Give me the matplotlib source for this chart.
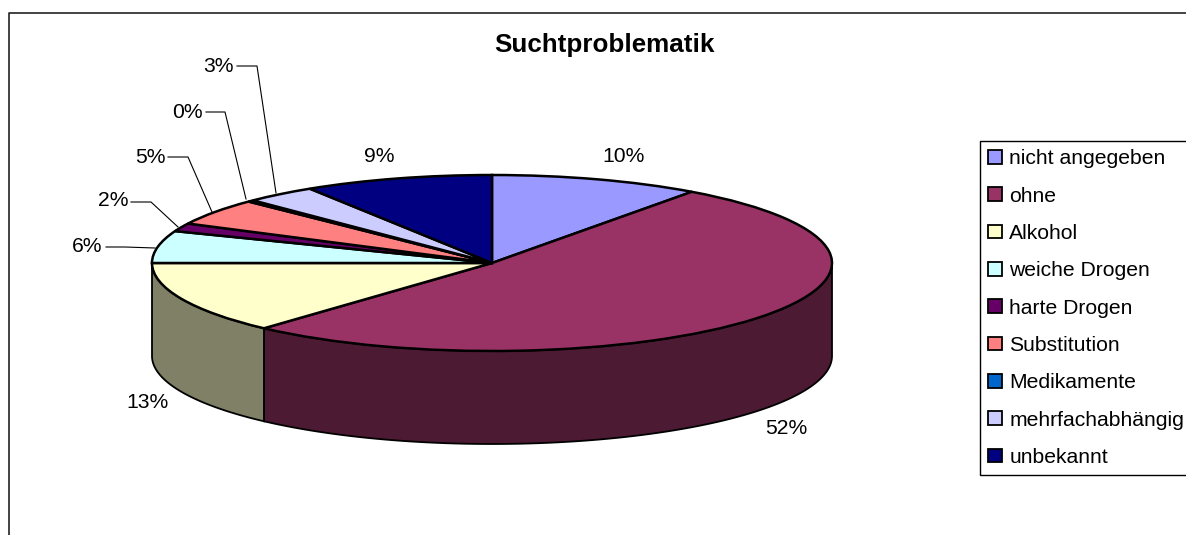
import matplotlib
matplotlib.use('Agg')
import matplotlib.pyplot as plt
from matplotlib.patches import Patch
import numpy as np

plt.rcParams['font.family'] = ['Liberation Sans', 'DejaVu Sans']

categories = ['nicht angegeben', 'ohne', 'Alkohol', 'weiche Drogen', 'harte Drogen',
              'Substitution', 'Medikamente', 'mehrfachabhängig', 'unbekannt']
values = [10, 51.7, 13.3, 5.9, 1.5, 4.9, 0.3, 3.4, 9]
colors = ['#9999ff', '#993366', '#ffffcc', '#ccffff', '#660066',
          '#ff8080', '#0066cc', '#ccccff', '#000080']
side_colors = ['#4d4d80', '#4d1a33', '#808066', '#668080', '#330033',
               '#804040', '#003366', '#666680', '#000040']
pct_labels = ['10%', '52%', '13%', '6%', '2%', '5%', '0%', '3%', '9%']

# pixel geometry of the ellipse
W, H = 1186, 535
CX, CY, RX, RY, DEPTH = 492, 263, 340, 88, 93

fig = plt.figure(figsize=(W / 100, H / 100), dpi=100)
ax = fig.add_axes([0, 0, 1, 1])

# side wall, only the front half is visible
cum = np.cumsum([0] + values) / sum(values) * 360
depth = DEPTH / RY
for i in range(len(values)):
    a0, a1 = max(cum[i], 90), min(cum[i + 1], 270)
    if a1 <= a0:
        continue
    th = np.radians(np.linspace(a0, a1, 120))
    xs = np.sin(th)
    ys = np.cos(th)
    ax.fill(np.r_[xs, xs[::-1]], np.r_[ys, ys[::-1] - depth],
            facecolor=side_colors[i], edgecolor='black', linewidth=1.3, zorder=1)

ax.pie(values, colors=colors, startangle=90, counterclock=False, radius=1,
       wedgeprops={'edgecolor': 'black', 'linewidth': 1.8, 'zorder': 2})
ax.set_aspect('auto')
ax.set_xlim((0 - CX) / RX, (W - CX) / RX)
ax.set_ylim((CY - H) / RY, (CY - 0) / RY)
ax.axis('off')

# overlay in pixel coordinates for text
ov = fig.add_axes([0, 0, 1, 1], facecolor='none')
ov.set_xlim(0, W)
ov.set_ylim(H, 0)
ov.axis('off')

ov.plot([8.5, 8.5, W], [H, 12.5, 12.5], color='#222222', lw=1.2, clip_on=False)
ov.text(604, 45, 'Suchtproblematik', fontsize=18.7, fontweight='bold',
        ha='center', va='center', color='black')

label_pos = [(624, 156.5), (786, 429), (148, 403), (87, 247), (113, 201),
             (150, 157.5), (187, 112), (218, 67), (379, 156.5)]
for txt, (x, y) in zip(pct_labels, label_pos):
    ov.text(x, y, txt, fontsize=15.2, ha='center', va='center', color='black')

leaders = [
    ([106, 125, 155], [247, 247, 248]),
    ([131, 151, 178], [202, 202, 227]),
    ([168, 188, 212], [157, 157, 212]),
    ([206, 225, 246], [112, 112, 199]),
    ([237, 257, 276], [66, 66, 193]),
]
for xs, ys in leaders:
    ov.plot(xs, ys, color='black', lw=0.8)

handles = [Patch(facecolor=c, edgecolor='black', linewidth=1.3) for c in colors]
leg = ov.legend(handles, categories, loc='upper left', bbox_to_anchor=(980 / W, 1 - 141 / H),
                bbox_transform=fig.transFigure, borderaxespad=0, fontsize=15.2,
                fancybox=False, edgecolor='black', framealpha=1, frameon=True,
                handlelength=0.62, handleheight=0.62, handletextpad=0.36,
                labelspacing=0.867, borderpad=0.4)
leg.get_frame().set_linewidth(1.0)

fig.savefig('out.png', dpi=100, facecolor='white')
